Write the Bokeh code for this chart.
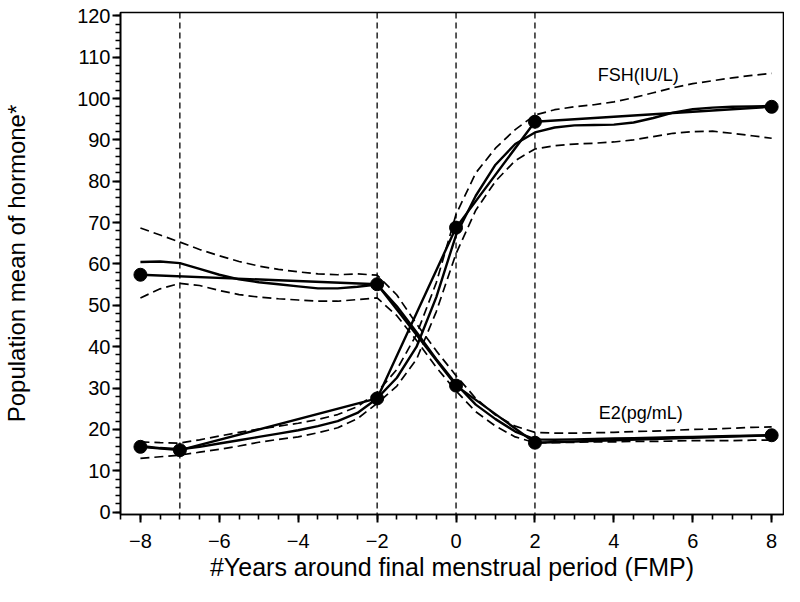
from bokeh.plotting import figure
from bokeh.models import Range1d, SingleIntervalTicker, Span, Label
from bokeh.embed import file_html
from bokeh.resources import INLINE

# ---------------- data ----------------
years = [-8, -7.5, -7, -6.5, -6, -5.5, -5, -4.5, -4, -3.5, -3, -2.5, -2,
         -1.5, -1, -0.5, 0, 0.5, 1, 1.5, 2, 2.5, 3, 3.5, 4, 4.5, 5, 5.5,
         6, 6.5, 7, 7.5, 8]

fsh_smooth = [16.0, 15.5, 15.2, 15.8, 16.6, 17.4, 18.2, 19.0, 19.8, 20.8, 22.0, 24.0, 27.5,
              32.5, 40.0, 52.0, 67.0, 76.5, 84.0, 89.0, 91.8, 93.0, 93.5, 93.6, 93.7, 94.2,
              95.3, 96.6, 97.4, 97.8, 98.0, 98.1, 98.2]
fsh_upper = [17.0, 16.8, 16.7, 17.5, 18.4, 19.3, 20.1, 20.8, 21.5, 22.4, 23.6, 25.5, 29.0,
             34.5, 43.0, 55.5, 72.0, 82.0, 88.0, 92.5, 96.0, 97.3, 98.0, 98.5, 99.2, 100.2,
             101.4, 102.6, 103.6, 104.3, 105.0, 105.6, 106.1]
fsh_lower = [13.0, 13.4, 13.8, 14.5, 15.2, 16.0, 16.9, 17.6, 18.2, 19.2, 20.4, 22.6, 26.3,
             30.5, 37.0, 48.5, 62.5, 73.0, 80.0, 85.0, 87.8, 88.6, 89.0, 89.2, 89.5, 90.0,
             90.8, 91.6, 92.0, 92.1, 91.6, 91.0, 90.4]

e2_smooth = [60.5, 60.6, 60.2, 58.8, 57.4, 56.3, 55.6, 55.1, 54.6, 54.1, 54.1, 54.5, 55.0,
             49.8, 43.5, 37.0, 31.0, 26.0, 22.5, 19.5, 17.6, 17.5, 17.6, 17.7, 17.8, 17.9,
             18.0, 18.1, 18.2, 18.3, 18.4, 18.5, 18.6]
e2_upper = [68.7, 67.0, 65.3, 63.5, 62.0, 60.6, 59.5, 58.7, 58.1, 57.6, 57.4, 57.6, 57.3,
            52.5, 45.5, 39.0, 33.0, 27.5, 23.5, 20.8, 19.3, 19.1, 19.1, 19.2, 19.3, 19.5,
            19.6, 19.8, 20.0, 20.1, 20.3, 20.5, 20.6]
e2_lower = [51.8, 54.0, 55.3, 54.8, 53.6, 52.6, 52.0, 51.6, 51.3, 51.0, 51.0, 51.4, 51.8,
            47.5, 41.5, 35.0, 29.3, 24.3, 20.8, 18.2, 16.8, 16.8, 16.9, 17.0, 17.0, 17.1,
            17.1, 17.2, 17.3, 17.3, 17.3, 17.4, 17.4]

fsh_obs_x = [-8, -7, -2, 0, 2, 8]
fsh_obs_y = [15.8, 15.0, 27.5, 68.8, 94.4, 98.0]
e2_obs_x = [-8, -2, 0, 2, 8]
e2_obs_y = [57.4, 55.1, 30.6, 16.8, 18.6]

ref_years = [-7, -2, 0, 2]

x_ticks = [-8, -6, -4, -2, 0, 2, 4, 6, 8]
x_tick_labels = ["\u22128", "\u22126", "\u22124", "\u22122", "0", "2", "4", "6", "8"]

series_names = ["FSH(IU/L)", "E2(pg/mL)"]
x_title = "#Years around final menstrual period (FMP)"
y_title = "Population mean of hormone*"

FONT = "Liberation Sans"

# ---------------- figure ----------------
p = figure(width=784, height=586,
           x_range=Range1d(-8.505, 8.30), y_range=Range1d(-0.56, 120.8),
           output_backend="svg", toolbar_location=None,
           min_border_left=120, min_border_right=1,
           min_border_top=12, min_border_bottom=72)
p.grid.visible = False
p.outline_line_color = "black"
p.outline_line_width = 1.6
p.background_fill_color = "white"
p.border_fill_color = "white"

p.xaxis.ticker = SingleIntervalTicker(interval=2, num_minor_ticks=4)
p.yaxis.ticker = SingleIntervalTicker(interval=10, num_minor_ticks=5)
p.xaxis.major_label_overrides = dict(zip(x_ticks, x_tick_labels))

for ax in (p.xaxis[0], p.yaxis[0]):
    ax.axis_line_color = "black"
    ax.axis_line_width = 1.6
    ax.major_tick_in = 0
    ax.major_tick_out = 8
    ax.minor_tick_in = 0
    ax.minor_tick_out = 5
    ax.major_tick_line_width = 2
    ax.minor_tick_line_width = 1.6
    ax.major_tick_line_color = "black"
    ax.minor_tick_line_color = "black"
    ax.major_label_text_font = FONT
    ax.major_label_text_font_size = "20px"
    ax.major_label_text_color = "black"
    ax.axis_label_text_font = FONT
    ax.axis_label_text_font_style = "normal"
    ax.axis_label_text_color = "black"

p.xaxis.axis_label_text_font_size = "25px"
p.yaxis.axis_label_text_font_size = "24px"
p.xaxis.axis_label = x_title
p.yaxis.axis_label = y_title
p.xaxis.major_label_standoff = 11
p.xaxis.axis_label_standoff = 2
p.yaxis.major_label_standoff = 2
p.yaxis.axis_label_standoff = 44

for xv in ref_years:
    p.add_layout(Span(location=xv, dimension="height", line_color="black",
                      line_width=1.3, line_dash="6 4"))

for up, lo in ((fsh_upper, fsh_lower), (e2_upper, e2_lower)):
    p.line(years, up, line_color="black", line_width=1.7, line_dash="9 5")
    p.line(years, lo, line_color="black", line_width=1.7, line_dash="9 5")

p.line(years, fsh_smooth, line_color="black", line_width=2.4)
p.line(years, e2_smooth, line_color="black", line_width=2.4)

p.line(fsh_obs_x, fsh_obs_y, line_color="black", line_width=2.4)
p.line(e2_obs_x, e2_obs_y, line_color="black", line_width=2.4)
p.scatter(fsh_obs_x, fsh_obs_y, size=13, color="black")
p.scatter(e2_obs_x, e2_obs_y, size=13, color="black")

p.add_layout(Label(x=4.62, y=105.6, text=series_names[0], text_font=FONT,
                   text_font_size="18px", text_align="center",
                   text_baseline="middle", text_color="black"))
p.add_layout(Label(x=4.68, y=23.9, text=series_names[1], text_font=FONT,
                   text_font_size="18px", text_align="center",
                   text_baseline="middle", text_color="black"))

open("out.html", "w").write(file_html(p, INLINE))
